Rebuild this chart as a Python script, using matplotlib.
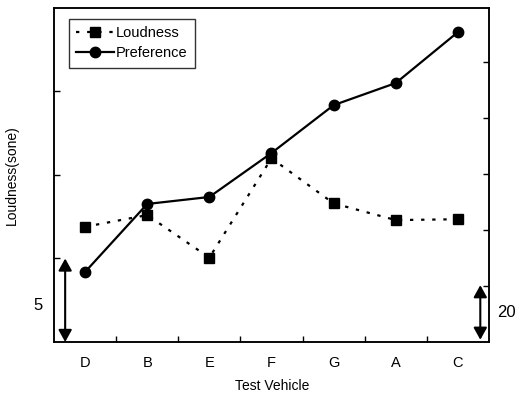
import matplotlib
matplotlib.use("Agg")
import matplotlib.pyplot as plt

plt.rcParams['font.family'] = ['Liberation Sans', 'DejaVu Sans']

vehicles = ["D", "B", "E", "F", "G", "A", "C"]
loudness = [6.9, 7.6, 5.05, 11.0, 8.3, 7.3, 7.35]          # sone, left axis
preference = [25.0, 49.3, 51.8, 67.5, 84.6, 92.5, 110.7]    # right axis

fig = plt.figure(figsize=(5.2, 3.94), dpi=100)
ax = fig.add_axes([0.1038, 0.132, 0.8366, 0.8477])
ax2 = ax.twinx()

x = list(range(len(vehicles)))

l1, = ax.plot(x, loudness, linestyle=(0, (1.5, 3.5)), color='black', linewidth=1.6,
              marker='s', markersize=7, label='Loudness')
l2, = ax2.plot(x, preference, linestyle='-', color='black', linewidth=1.6,
               marker='o', markersize=7.5, label='Preference')

ax.set_xlim(-0.5, 6.5)
ax.set_ylim(0, 20)
ax2.set_ylim(0, 119.3)

# category labels without marks; small inward ticks between categories
ax.set_xticks(x)
ax.set_xticklabels(vehicles, fontsize=10.5)
ax.set_xticks([i + 0.5 for i in range(len(vehicles) - 1)], minor=True)
ax.tick_params(axis='x', which='major', length=0, pad=10)
ax.tick_params(axis='x', which='minor', direction='in', length=4, width=1)

ax.set_yticks([5, 10, 15])
ax.set_yticklabels([])
ax.tick_params(axis='y', direction='in', length=4, width=1)
ax2.set_yticks([20, 40, 60, 80, 100])
ax2.set_yticklabels([])
ax2.tick_params(axis='y', direction='in', length=4, width=1)

for a in (ax, ax2):
    for s in a.spines.values():
        s.set_linewidth(1.1)
        s.set_color('black')

fig.text(0.523, 1 - 386.5 / 394, "Test Vehicle", fontsize=10,
         ha='center', va='center')
ax.set_ylabel("Loudness(sone)", fontsize=10, labelpad=22)

# scale indicators
arrow_style = '<|-|>,head_length=0.45,head_width=0.25'
ax.annotate("", xy=(-0.32, 0.0), xytext=(-0.32, 5.0),
            arrowprops=dict(arrowstyle=arrow_style, color='black', lw=1.5,
                            shrinkA=0, shrinkB=0, mutation_scale=16))
ax.text(-0.76, 2.2, "5", fontsize=12, ha='center', va='center', clip_on=False)
ax2.annotate("", xy=(6.36, 0.8), xytext=(6.36, 20.3),
             arrowprops=dict(arrowstyle=arrow_style, color='black', lw=1.5,
                             shrinkA=0, shrinkB=0, mutation_scale=16))
ax2.text(6.78, 10.4, "20", fontsize=12, ha='center', va='center', clip_on=False)

leg = ax.legend(handles=[l1, l2], loc='upper left', bbox_to_anchor=(0.034, 0.967),
                fontsize=10.5, frameon=True, fancybox=False, handlelength=2.6,
                handletextpad=0.15, borderpad=0.5, labelspacing=0.42,
                borderaxespad=0)
leg.get_frame().set_edgecolor('black')
leg.get_frame().set_linewidth(1.0)
ax.set_zorder(ax2.get_zorder() + 1)
ax.patch.set_visible(False)

fig.savefig("out.png", dpi=100)
